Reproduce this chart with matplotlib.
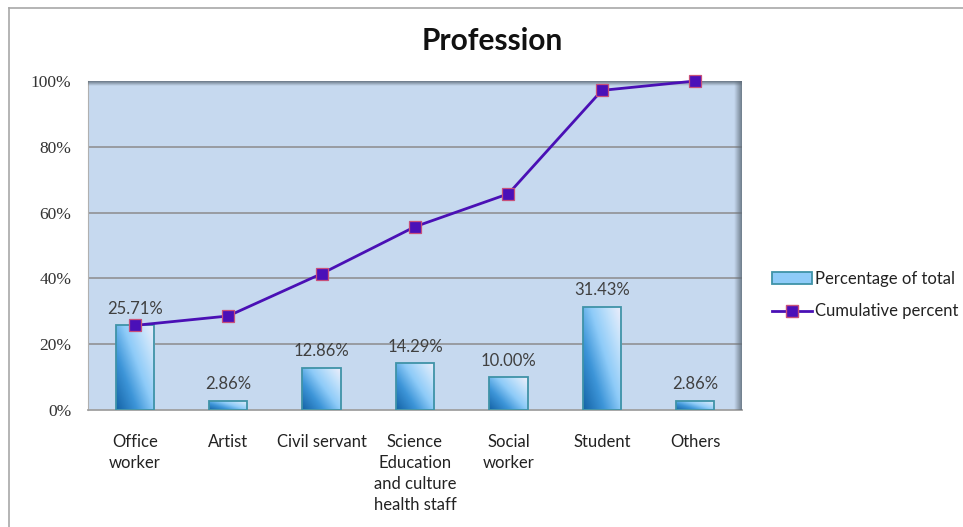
import numpy as np
import matplotlib
matplotlib.use('Agg')
import matplotlib.pyplot as plt
from matplotlib.colors import LinearSegmentedColormap
from matplotlib.lines import Line2D
from matplotlib.patches import Patch

categories = ['Office\nworker', 'Artist', 'Civil servant',
              'Science\nEducation\nand culture\nhealth staff',
              'Social\nworker', 'Student', 'Others']
pct_total = [25.71, 2.86, 12.86, 14.29, 10.00, 31.43, 2.86]
cum_pct = [25.71, 28.57, 41.43, 55.72, 65.72, 97.15, 100.00]
bar_labels = ['25.71%', '2.86%', '12.86%', '14.29%', '10.00%', '31.43%', '2.86%']
yticks = [0, 20, 40, 60, 80, 100]
ytick_labels = ['0%', '20%', '40%', '60%', '80%', '100%']

W, H = 963, 527
fig = plt.figure(figsize=(W / 100, H / 100), dpi=100)
fig.patch.set_facecolor('white')

ax = fig.add_axes([88 / W, 1 - 410 / H, (742 - 88) / W, (410 - 81) / H])
ax.set_facecolor('#c6d9ef')
ax.set_xlim(-0.5, len(categories) - 0.5)
ax.set_ylim(0, 100)

# grid
for y in yticks[1:-1]:
    ax.axhline(y, color='#8c8c8c', lw=1.1, zorder=1)

# bars with a diagonal gradient fill
grad_cmap = LinearSegmentedColormap.from_list(
    'bar', [(0.0, '#1463a6'), (0.3, '#3d95d8'), (0.55, '#8ecbf8'),
            (0.8, '#c4e2fb'), (1.0, '#f0eefa')])
gx, gy = np.meshgrid(np.linspace(0, 1, 60), np.linspace(0, 1, 120))
bw = 0.41
bars = ax.bar(range(len(categories)), pct_total, width=bw,
              facecolor='none', edgecolor='#3f93a8', lw=1.3, zorder=3)
for b in bars:
    x0, h = b.get_x(), b.get_height()
    g = 0.55 * gx + 0.45 * gy
    im = ax.imshow(g, cmap=grad_cmap, origin='lower', aspect='auto',
                   extent=[x0, x0 + bw, 0, h], zorder=2, interpolation='bilinear')
    im.set_clip_path(b)
ax.set_xlim(-0.5, len(categories) - 0.5)
ax.set_ylim(0, 100)

for i, (v, lab) in enumerate(zip(pct_total, bar_labels)):
    ax.annotate(lab, (i, v), xytext=(0, 6), textcoords='offset points',
                ha='center', va='bottom', fontsize=12, color='#404040',
                family='Lato', zorder=6)

# cumulative line
ax.plot(range(len(categories)), cum_pct, color='#4a10b5', lw=2.0,
        marker='s', markersize=8.5, markerfacecolor='#4a10b8',
        markeredgecolor='#c8507a', markeredgewidth=0.9, zorder=5, clip_on=False)

# shaded top and right edges of the plot area
shade_top = np.zeros((20, 1, 4))
shade_top[..., :3] = np.array([0.38, 0.43, 0.48])
shade_top[:, 0, 3] = np.linspace(0.0, 0.9, 20)
ax.imshow(shade_top, origin='lower', aspect='auto', extent=[0, 1, 0.985, 1.0],
          transform=ax.transAxes, zorder=4, interpolation='bilinear')
shade_right = np.zeros((1, 20, 4))
shade_right[..., :3] = np.array([0.38, 0.43, 0.48])
shade_right[0, :, 3] = np.linspace(0.0, 0.85, 20)
ax.imshow(shade_right, origin='lower', aspect='auto', extent=[0.988, 1.0, 0, 1],
          transform=ax.transAxes, zorder=4, interpolation='bilinear')
ax.set_xlim(-0.5, len(categories) - 0.5)
ax.set_ylim(0, 100)

for s in ['top', 'right']:
    ax.spines[s].set_visible(False)
ax.spines['left'].set_color('#b0b0b0')
ax.spines['bottom'].set_color('#a0a0a0')
ax.spines['bottom'].set_linewidth(1.3)

ax.set_yticks(yticks)
ax.set_yticklabels(ytick_labels, family='Liberation Serif', fontsize=12.5,
                   color='#333333')
ax.set_xticks(range(len(categories)))
ax.set_xticklabels(categories, family='Lato', fontsize=12, color='#222222',
                   linespacing=1.4, va='top')
ax.tick_params(axis='y', length=0, pad=12)
ax.tick_params(axis='x', length=0, pad=17)

fig.text(492 / W, 1 - 41 / H, 'Profession', ha='center', va='center',
         fontsize=21.5, fontweight='bold', family='Lato', color='#111111')

handles = [Patch(facecolor='#8ecbf8', edgecolor='#3f93a8', lw=1.3),
           Line2D([0], [0], color='#4a10b5', lw=2.0, marker='s', markersize=8.5,
                  markerfacecolor='#4a10b8', markeredgecolor='#c8507a')]
fig.legend(handles, ['Percentage of total', 'Cumulative percent'],
           loc='center left', bbox_to_anchor=(757 / W, 1 - 295 / H),
           frameon=False, prop={'family': 'Lato', 'size': 12},
           handlelength=2.4, handletextpad=0.2, labelspacing=1.0,
           labelcolor='#222222')

# outer chart border
fig.add_artist(Line2D([9 / W, 9 / W], [0, 1 - 8 / H], color='#a8a8a8', lw=1.2))
fig.add_artist(Line2D([9 / W, 1], [1 - 8 / H, 1 - 8 / H], color='#a8a8a8', lw=1.2))

fig.savefig('out.png', dpi=100)
